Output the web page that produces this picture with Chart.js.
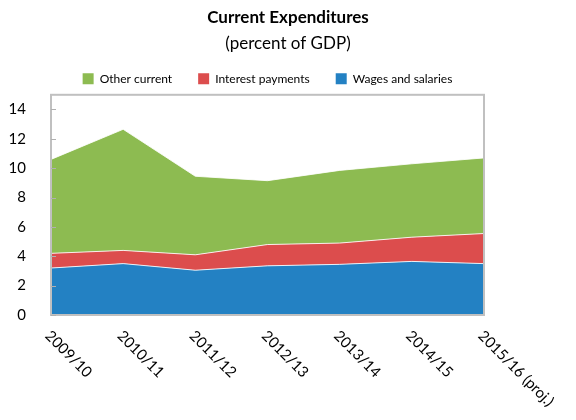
<!DOCTYPE html>
<html>
<head>
<meta charset="utf-8">
<script src="https://cdn.jsdelivr.net/npm/chart.js@4.4.1/dist/chart.umd.min.js"></script>
<style>
  html, body { margin: 0; padding: 0; background: #fff; }
</style>
</head>
<body>
<canvas id="grafico" width="576" height="420"></canvas>
<script>
// dados (percentual do PIB)
const years = ["2009/10", "2010/11", "2011/12", "2012/13", "2013/14", "2014/15", "2015/16 (proj.)"];
const wages = [3.2, 3.5, 3.05, 3.35, 3.45, 3.65, 3.5];
const interest = [1.0, 0.9, 1.05, 1.45, 1.45, 1.65, 2.05];
const other = [6.4, 8.25, 5.35, 4.35, 4.95, 5.0, 5.15];
const yTicks = [0, 2, 4, 6, 8, 10, 12, 14];

const FONT = "Lato, 'Open Sans', sans-serif";

// borda, marcas do eixo y e rótulos inclinados do eixo x
const extras = {
    id: 'extras',
    afterDraw(chart) {
        const { ctx, chartArea: a, scales: { x, y } } = chart;
        ctx.save();
        ctx.strokeStyle = '#c0c0c0';
        ctx.lineWidth = 2;
        ctx.strokeRect(a.left, a.top, a.right - a.left, a.bottom - a.top);

        ctx.lineWidth = 1;
        ctx.strokeStyle = '#b0b0b0';
        yTicks.forEach(v => {
            const py = Math.round(y.getPixelForValue(v)) + 0.5;
            ctx.beginPath();
            ctx.moveTo(a.left, py);
            ctx.lineTo(a.left + 5, py);
            ctx.stroke();
        });

        ctx.fillStyle = '#000';
        ctx.font = '15px ' + FONT;
        ctx.textAlign = 'left';
        ctx.textBaseline = 'top';
        years.forEach((lab, i) => {
            const px = x.getPixelForValue(i);
            ctx.save();
            ctx.translate(px + 2, 328);
            ctx.rotate(Math.PI / 4);
            ctx.fillText(lab, 0, 0);
            ctx.restore();
        });
        ctx.restore();
    }
};

new Chart(document.getElementById('grafico'), {
    type: 'line',
    data: {
        labels: years,
        datasets: [
            { label: 'Wages and salaries', data: wages, backgroundColor: '#2381c3', fill: 'origin' },
            { label: 'Interest payments', data: interest, backgroundColor: '#dc4d4d', fill: '-1' },
            { label: 'Other current', data: other, backgroundColor: '#8dbb51', fill: '-1' }
        ].map(d => Object.assign(d, {
            borderColor: 'rgba(255,255,255,0.85)',
            borderWidth: 1,
            pointRadius: 0,
            tension: 0
        }))
    },
    options: {
        responsive: false,
        animation: false,
        layout: { padding: 0 },
        plugins: {
            title: {
                display: true,
                text: 'Current Expenditures',
                color: '#000',
                font: { family: FONT, size: 17, weight: 'bold' },
                padding: { top: 7, bottom: 6 }
            },
            subtitle: {
                display: true,
                text: '(percent of GDP)',
                color: '#000',
                font: { family: FONT, size: 17 },
                padding: { top: 0, bottom: -7 }
            },
            legend: {
                fullSize: false,
                reverse: true,
                labels: {
                    color: '#000',
                    font: { family: FONT, size: 12 },
                    boxWidth: 11,
                    boxHeight: 11,
                    padding: 26,
                    generateLabels(chart) {
                        return chart.data.datasets.map((d, i) => ({
                            text: d.label,
                            fillStyle: d.backgroundColor,
                            strokeStyle: d.backgroundColor,
                            lineWidth: 0,
                            datasetIndex: i,
                            fontColor: '#000'
                        }));
                    }
                }
            },
            tooltip: { enabled: false }
        },
        scales: {
            x: {
                offset: false,
                grid: { display: false },
                border: { display: false },
                ticks: { display: false },
                afterFit: s => { s.height = 105; }
            },
            y: {
                stacked: true,
                min: 0,
                max: 15,
                grid: { display: false },
                border: { display: false },
                ticks: { color: '#000', font: { family: FONT, size: 15 }, padding: 17 },
                afterBuildTicks: s => { s.ticks = yTicks.map(v => ({ value: v })); },
                afterFit: s => { s.width = 51; }
            },
            y2: {
                position: 'right',
                display: true,
                grid: { display: false },
                border: { display: false },
                ticks: { display: false },
                afterFit: s => { s.width = 92; }
            }
        }
    },
    plugins: [extras]
});
</script>
</body>
</html>
